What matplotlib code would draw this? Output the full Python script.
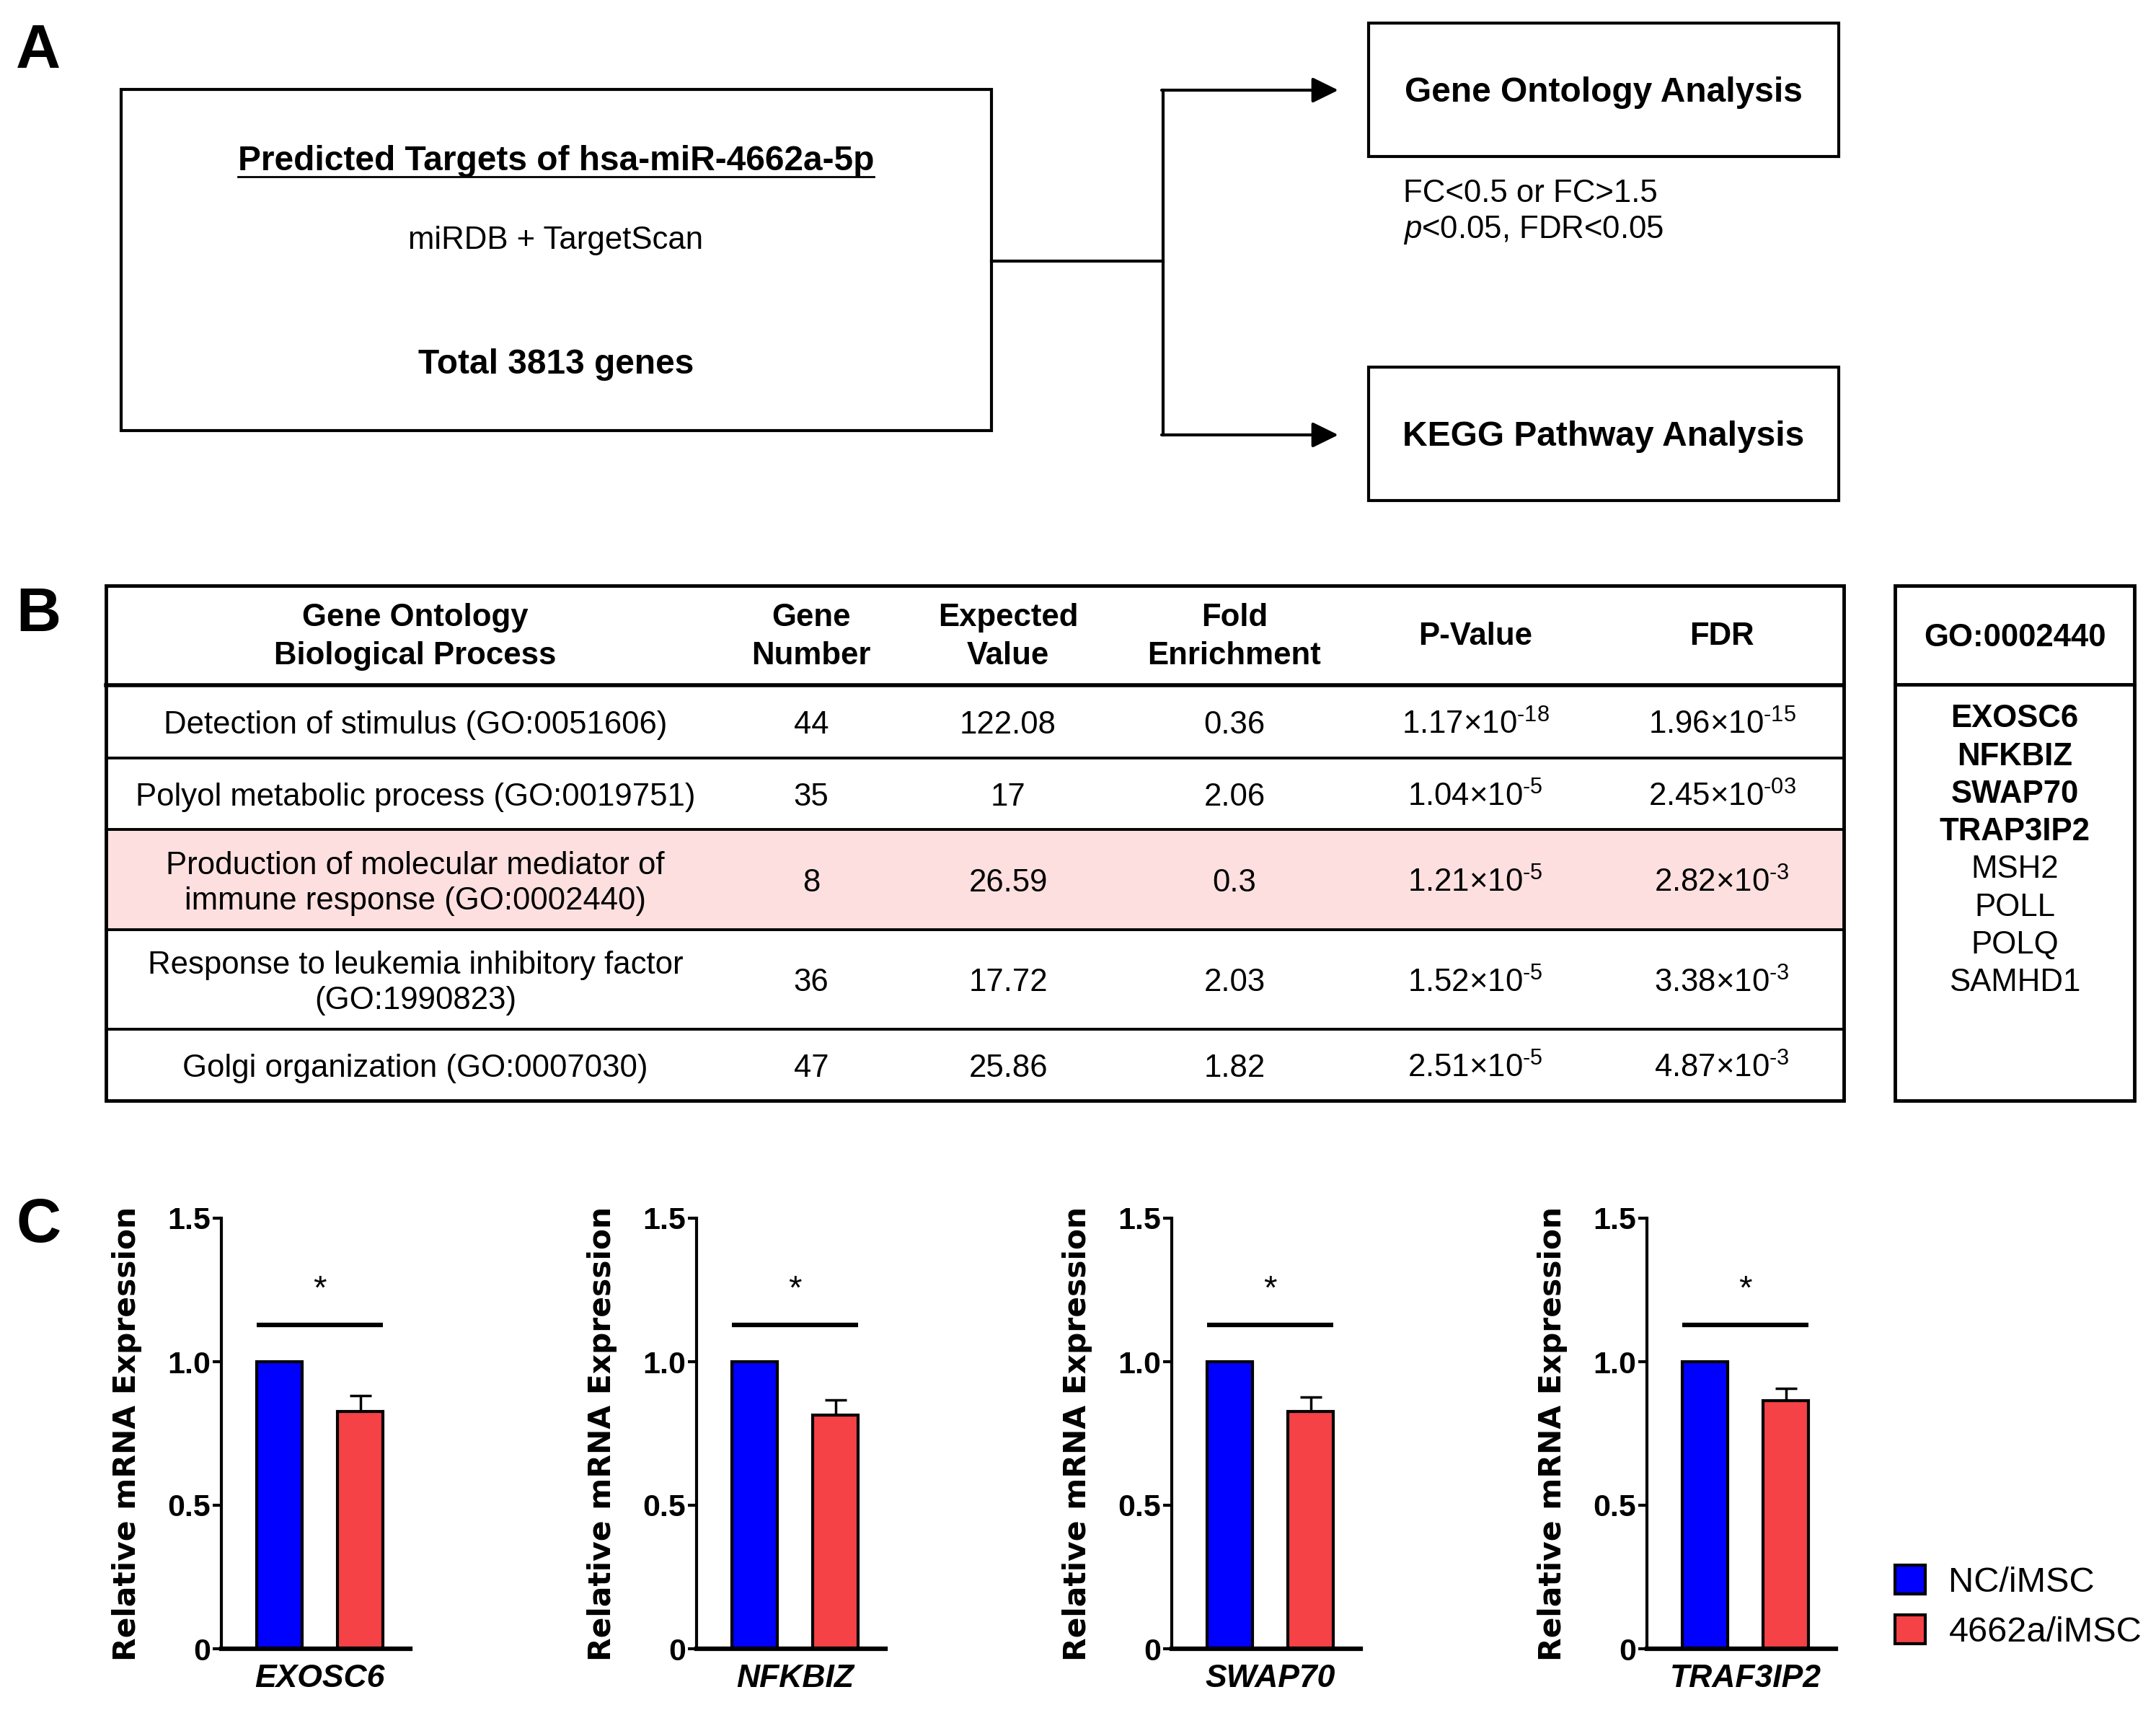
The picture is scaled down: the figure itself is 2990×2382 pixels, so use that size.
import matplotlib
matplotlib.use('Agg')
import matplotlib.pyplot as plt
import numpy as np
from matplotlib.patches import Rectangle, Patch

plt.rcParams['font.family'] = ['Liberation Sans', 'DejaVu Sans']
plt.rcParams['mathtext.fontset'] = 'custom'
plt.rcParams['mathtext.rm'] = 'Liberation Sans'
plt.rcParams['mathtext.it'] = 'Liberation Sans:italic'
plt.rcParams['mathtext.bf'] = 'Liberation Sans:bold'

# ---- panel A text ----
target_title = 'Predicted Targets of hsa-miR-4662a-5p'
target_source = 'miRDB + TargetScan'
target_total = 'Total 3813 genes'
analyses = ['Gene Ontology Analysis', 'KEGG Pathway Analysis']
criteria = ['FC<0.5 or FC>1.5', r'$\mathit{p}$<0.05, FDR<0.05']

# ---- panel B table ----
headers = ['Gene Ontology\nBiological Process', 'Gene\nNumber', 'Expected\nValue',
           'Fold\nEnrichment', 'P-Value', 'FDR']
processes = ['Detection of stimulus (GO:0051606)',
             'Polyol metabolic process (GO:0019751)',
             'Production of molecular mediator of\nimmune response (GO:0002440)',
             'Response to leukemia inhibitory factor\n(GO:1990823)',
             'Golgi organization (GO:0007030)']
gene_number = [44, 35, 8, 36, 47]
expected_value = ['122.08', '17', '26.59', '17.72', '25.86']
fold_enrichment = ['0.36', '2.06', '0.3', '2.03', '1.82']
p_mant = ['1.17', '1.04', '1.21', '1.52', '2.51']
p_exp = ['-18', '-5', '-5', '-5', '-5']
fdr_mant = ['1.96', '2.45', '2.82', '3.38', '4.87']
fdr_exp = ['-15', '-03', '-3', '-3', '-3']
highlight_row = 2

go_term = 'GO:0002440'
go_genes = ['EXOSC6', 'NFKBIZ', 'SWAP70', 'TRAP3IP2', 'MSH2', 'POLL', 'POLQ', 'SAMHD1']
go_genes_bold = [True, True, True, True, False, False, False, False]

# ---- panel C bars ----
genes = ['EXOSC6', 'NFKBIZ', 'SWAP70', 'TRAF3IP2']
groups = ['NC/iMSC', '4662a/iMSC']
nc_mean = [1.0, 1.0, 1.0, 1.0]
mimic_mean = [0.827, 0.813, 0.827, 0.865]
mimic_err = [0.056, 0.053, 0.051, 0.042]
sig_level = 1.127
star_level = 1.25

BLUE = '#0000FF'
RED = '#F54246'
PINK = '#FDDFDF'


def sci(mant, expo):
    # hyphen instead of the long math minus, as in the original table
    return mant + '×10$^{\\mathregular{' + expo.replace('-', '\u2010') + '}}$'


W, H = 2990, 2382
fig = plt.figure(figsize=(W / 100, H / 100), dpi=100)

# overlay in pixel coordinates for the diagram and table
ax0 = fig.add_axes([0, 0, 1, 1])
ax0.set_xlim(0, W)
ax0.set_ylim(H, 0)
ax0.axis('off')

LW = 3

for lab, y in zip(['A', 'B', 'C'], [72, 853, 1700]):
    ax0.text(22, y, lab, fontsize=62, fontweight='bold', ha='left', va='center')

# --- A: flow diagram ---
ax0.add_patch(Rectangle((168, 124), 1207, 473, fill=False, lw=LW, ec='k'))
t = ax0.text(771, 223, target_title, fontsize=34.5, fontweight='bold', ha='center', va='center')
ax0.text(771, 333, target_source, fontsize=31.5, ha='center', va='center')
ax0.text(771, 506, target_total, fontsize=34.5, fontweight='bold', ha='center', va='center')

fig.canvas.draw()
bb = t.get_window_extent().transformed(ax0.transData.inverted())
ax0.plot([bb.x0, bb.x1], [245, 245], color='k', lw=2)

ax0.plot([1375, 1613], [362, 362], color='k', lw=LW)
ax0.plot([1613, 1613], [125, 603], color='k', lw=LW, solid_capstyle='projecting')
box_y = [(32, 217), (509, 694)]
arrow_y = [125, 603]
for name, (y0, y1), ay in zip(analyses, box_y, arrow_y):
    ax0.annotate('', xy=(1856, ay), xytext=(1611, ay),
                 arrowprops=dict(arrowstyle='-|>,head_length=0.55,head_width=0.27',
                                 lw=LW, color='k', mutation_scale=40, shrinkA=0, shrinkB=0))
    ax0.add_patch(Rectangle((1898, y0), 652, y1 - y0, fill=False, lw=LW, ec='k'))
    ax0.text(2224, (y0 + y1) / 2 + 4, name, fontsize=34.5, fontweight='bold',
             ha='center', va='center')
for i, c in enumerate(criteria):
    ax0.text(1946, 268 + i * 51, c, fontsize=31.5, ha='left', va='center')

# --- B: table ---
tl, tr = 147, 2557
row_edges = [812, 950, 1051, 1150, 1289, 1427, 1526]
col_x = [576, 1125, 1398, 1712, 2046, 2388]
ax0.add_patch(Rectangle((tl, row_edges[highlight_row + 1]), tr - tl,
                        row_edges[highlight_row + 2] - row_edges[highlight_row + 1],
                        fc=PINK, ec='none'))
ax0.add_patch(Rectangle((tl, row_edges[0]), tr - tl, row_edges[-1] - row_edges[0],
                        fill=False, lw=3.5, ec='k'))
for k, y in enumerate(row_edges[1:-1]):
    ax0.plot([tl, tr], [y, y], color='k', lw=4 if k == 0 else 2.8)

hy = (row_edges[0] + row_edges[1]) / 2 + 2
for x, h in zip(col_x, headers):
    ax0.text(x, hy, h, fontsize=31.5, fontweight='bold', ha='center', va='center',
             linespacing=1.35)

for r in range(len(processes)):
    cy = (row_edges[r + 1] + row_edges[r + 2]) / 2 + 5
    cells = [processes[r], str(gene_number[r]), expected_value[r], fold_enrichment[r],
             sci(p_mant[r], p_exp[r]), sci(fdr_mant[r], fdr_exp[r])]
    for x, c in zip(col_x, cells):
        ax0.text(x, cy, c, fontsize=31.5, ha='center', va='center', linespacing=1.25)

# GO term gene box
ax0.add_patch(Rectangle((2628, 812), 332, 714, fill=False, lw=3.5, ec='k'))
ax0.plot([2628, 2960], [949, 949], color='k', lw=3.5)
ax0.text(2794, 884, go_term, fontsize=31.5, fontweight='bold', ha='center', va='center')
for i, (g, b) in enumerate(zip(go_genes, go_genes_bold)):
    ax0.text(2794, 997 + i * 52.2, g, fontsize=31.5, fontweight='bold' if b else 'normal',
             ha='center', va='center')

# --- C: bar charts ---
xpos = np.arange(len(groups))
for i, gene in enumerate(genes):
    ax = fig.add_axes([(307 + 659 * i) / W, 1 - 2286 / H, 262 / W, 597 / H])
    ax.bar(xpos[0], nc_mean[i], width=0.56, color=BLUE, edgecolor='k', lw=3, zorder=2)
    ax.bar(xpos[1], mimic_mean[i], width=0.56, color=RED, edgecolor='k', lw=3, zorder=2)
    ax.errorbar(xpos[1], mimic_mean[i], yerr=[[0], [mimic_err[i]]], fmt='none', ecolor='k',
                elinewidth=2.5, capsize=11, capthick=2.5, zorder=1)
    ax.plot([xpos[0] - 0.28, xpos[1] + 0.28], [sig_level, sig_level], color='k', lw=4.5,
            solid_capstyle='butt')
    ax.text(xpos.mean(), star_level, '*', fontsize=34, ha='center', va='center')
    ax.set_xlim(-0.714, 1.616)
    ax.set_ylim(0, 1.5)
    ax.set_yticks([0, 0.5, 1.0, 1.5], ['0', '0.5', '1.0', '1.5'])
    ax.set_xticks([xpos.mean()], [gene])
    for lbl in ax.get_yticklabels():
        lbl.set_fontweight('bold')
        lbl.set_fontsize(31)
    for lbl in ax.get_xticklabels():
        lbl.set_fontweight('bold')
        lbl.set_fontstyle('italic')
        lbl.set_fontsize(32)
    ax.tick_params(axis='y', length=9, width=3, pad=2)
    ax.tick_params(axis='x', length=0, pad=15)
    ax.spines['top'].set_visible(False)
    ax.spines['right'].set_visible(False)
    ax.spines['left'].set_linewidth(3)
    ax.spines['bottom'].set_linewidth(4.5)
    ax.set_ylabel('Relative mRNA Expression', fontsize=30.5, fontweight='bold',
                  family='DejaVu Sans')
    ax.yaxis.set_label_coords(-0.42, 0.5)
    ax.patch.set_alpha(0)

handles = [Patch(facecolor=BLUE, edgecolor='k', lw=3), Patch(facecolor=RED, edgecolor='k', lw=3)]
fig.legend(handles, groups, loc='center left', bbox_to_anchor=(2628 / W, 1 - 2228 / H),
           frameon=False, fontsize=35, handlelength=0.87, handleheight=0.9,
           handletextpad=0.66, labelspacing=0.45, borderpad=0, borderaxespad=0)

fig.savefig('out.png', dpi=100)
